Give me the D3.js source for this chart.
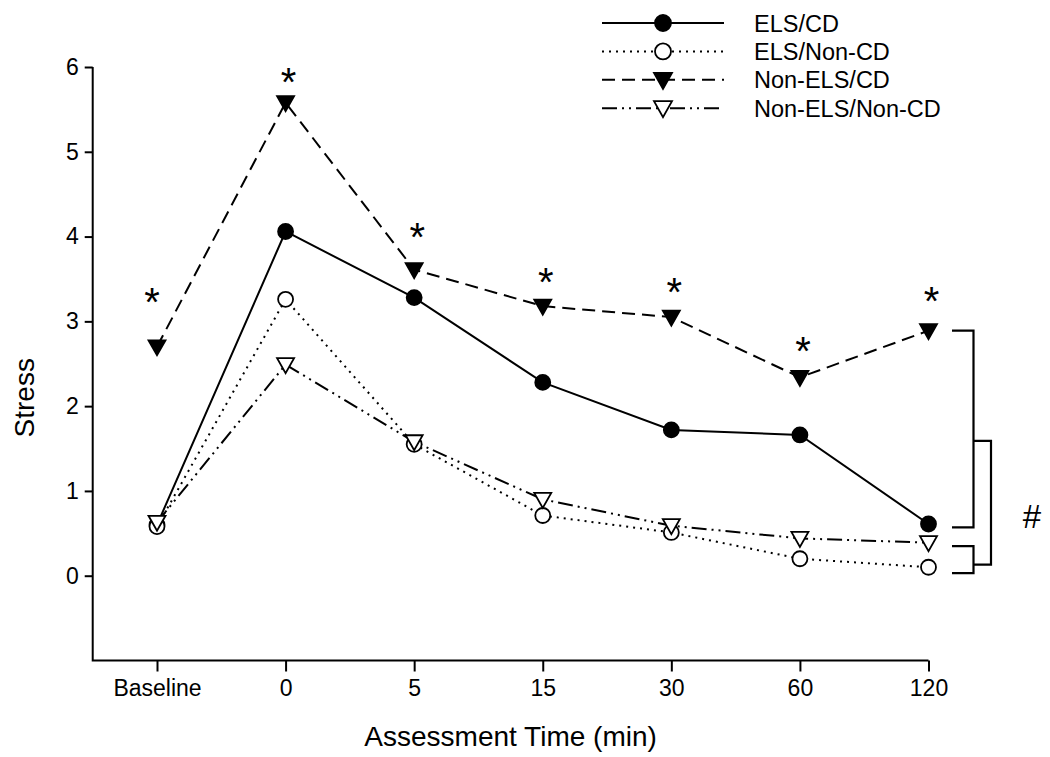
<!DOCTYPE html>
<html>
<head>
<meta charset="utf-8">
<script src="https://cdn.jsdelivr.net/npm/d3@7"></script>
<style>
  body { margin: 0; background: #fff; }
  text { font-family: "Liberation Sans", Arial, sans-serif; fill: #000; }
</style>
</head>
<body>
<div id="chart"></div>
<script>
// values
const timeLabels = ["Baseline", "0", "5", "15", "30", "60", "120"];
const elsCd       = [0.60, 4.06, 3.28, 2.28, 1.72, 1.66, 0.61];
const elsNonCd    = [0.58, 3.26, 1.55, 0.71, 0.51, 0.20, 0.10];
const nonElsCd    = [2.70, 5.58, 3.61, 3.18, 3.05, 2.34, 2.89];
const nonElsNonCd = [0.63, 2.49, 1.58, 0.90, 0.59, 0.44, 0.39];
const sigY        = [3.33, 5.93, 4.10, 3.57, 3.45, 2.76, 3.35]; // asterisk centres
const yTicks = [0, 1, 2, 3, 4, 5, 6];
const seriesNames = ["ELS/CD", "ELS/Non-CD", "Non-ELS/CD", "Non-ELS/Non-CD"];

const width = 1050, height = 757;

const series = [
  { name: seriesNames[0], values: elsCd,       dash: null,              marker: "circle",   fill: "#000" },
  { name: seriesNames[1], values: elsNonCd,    dash: "2,5",             marker: "circle",   fill: "#fff" },
  { name: seriesNames[2], values: nonElsCd,    dash: "13,7",            marker: "triangle", fill: "#000" },
  { name: seriesNames[3], values: nonElsNonCd, dash: "15,5,2,5,2,5",    marker: "triangle", fill: "#fff" }
];

const svg = d3.select("#chart").append("svg")
  .attr("width", width)
  .attr("height", height);

const x = d3.scalePoint().domain(timeLabels).range([157, 928.5]);
const y = d3.scaleLinear().domain([-1, 6]).range([660.5, 67]);
const left = x(timeLabels[0]) - x.step() / 2;

// axes
const xAxis = svg.append("g")
  .attr("transform", `translate(0,${y(-1)})`)
  .call(d3.axisBottom(x).tickSize(11).tickPadding(8).tickSizeOuter(0));
xAxis.select(".domain").remove();
xAxis.selectAll("line").attr("stroke-width", 2);
xAxis.selectAll("text").attr("font-size", 23).style("font-family", null);

const yAxis = svg.append("g")
  .attr("transform", `translate(${left},0)`)
  .call(d3.axisLeft(y).tickValues(yTicks).tickFormat(d3.format("d"))
    .tickSize(8).tickPadding(6).tickSizeOuter(0));
yAxis.select(".domain").remove();
yAxis.selectAll("line").attr("stroke-width", 2);
yAxis.selectAll("text").attr("font-size", 23).style("font-family", null);

svg.append("path")
  .attr("d", `M${left},${y(6)}V${y(-1)}H${x(timeLabels[6])}`)
  .attr("fill", "none").attr("stroke", "#000").attr("stroke-width", 2);

svg.append("text")
  .attr("transform", `translate(34,${(y(-1) + y(6)) / 2 + 34}) rotate(-90)`)
  .attr("text-anchor", "middle").attr("font-size", 28)
  .text("Stress");

svg.append("text")
  .attr("x", (left + x(timeLabels[6])) / 2).attr("y", 746)
  .attr("text-anchor", "middle").attr("font-size", 28)
  .text("Assessment Time (min)");

// markers
function drawMarker(g, type, fill, r) {
  if (type === "circle") {
    g.append("circle").attr("r", r)
      .attr("fill", fill).attr("stroke", "#000").attr("stroke-width", 1.8);
  } else {
    const w = r + 1;
    g.append("path").attr("d", `M${-w},${-r + 1}L${w},${-r + 1}L0,${r + 1}Z`)
      .attr("fill", fill).attr("stroke", "#000").attr("stroke-width", 1.8)
      .attr("stroke-linejoin", "miter");
  }
}

const line = d3.line().x((d, i) => x(timeLabels[i])).y(d => y(d));

series.forEach(s => {
  svg.append("path")
    .datum(s.values)
    .attr("d", line)
    .attr("fill", "none").attr("stroke", "#000").attr("stroke-width", 2)
    .attr("stroke-dasharray", s.dash);
});

series.forEach(s => {
  s.values.forEach((v, i) => {
    const g = svg.append("g").attr("transform", `translate(${x(timeLabels[i])},${y(v)})`);
    drawMarker(g, s.marker, s.fill, 7.5);
  });
});

// significance asterisks
svg.selectAll(".sig")
  .data(sigY)
  .enter().append("text")
  .attr("class", "sig")
  .attr("x", (d, i) => x(timeLabels[i]) + (i === 0 ? -5 : 3))
  .attr("y", d => y(d) + 23)
  .attr("text-anchor", "middle").attr("font-size", 40)
  .text("*");

// brackets on the right
const bx0 = 952, bx1 = 973.5, bx2 = 991;
svg.append("path")
  .attr("d", `M${bx0},${y(nonElsCd[6])}H${bx1}V${y(0.57)}H${bx0}` +
             `M${bx0},${y(0.35)}H${bx1}V${y(0.03)}H${bx0}` +
             `M${bx1},${y(1.59)}H${bx2}V${y(0.13)}H${bx1}`)
  .attr("fill", "none").attr("stroke", "#000").attr("stroke-width", 2.2);

svg.append("text")
  .attr("x", 1032).attr("y", y(0.7) + 12)
  .attr("text-anchor", "middle").attr("font-size", 33)
  .text("#");

// legend
const legend = svg.append("g");
series.forEach((s, i) => {
  const ly = 23 + i * 28.4;
  legend.append("line")
    .attr("x1", 602).attr("x2", 724).attr("y1", ly).attr("y2", ly)
    .attr("stroke", "#000").attr("stroke-width", 2)
    .attr("stroke-dasharray", s.dash);
  drawMarker(legend.append("g").attr("transform", `translate(663,${ly})`), s.marker, s.fill, 8);
  legend.append("text")
    .attr("x", 754).attr("y", ly + 8.5)
    .attr("font-size", 23.5)
    .text(s.name);
});
</script>
</body>
</html>
